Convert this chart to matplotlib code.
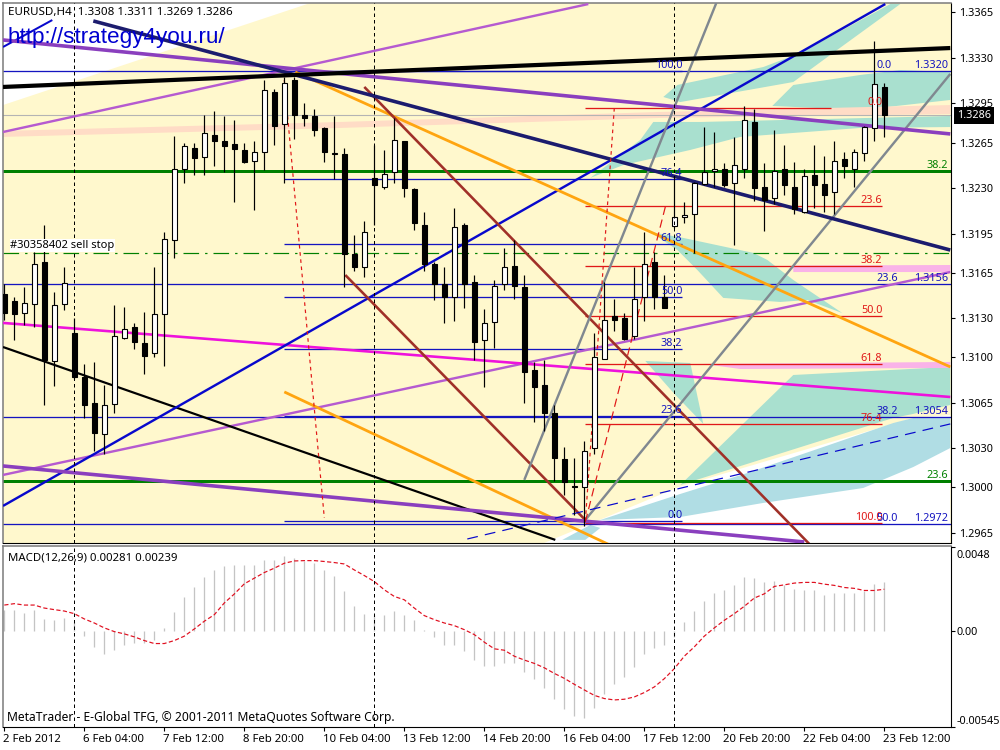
import matplotlib
matplotlib.use("Agg")
import matplotlib.pyplot as plt
from matplotlib.transforms import ScaledTranslation
import numpy as np

plt.rcParams['font.family'] = ['Noto Sans', 'DejaVu Sans']

# ---- candles, in price points (1/10000) ----
open_pts = [13149,13143,13134,13141,13173,13097,13141,13119,13085,13065,13041,13064,13115,13123,13111,13103,13133,13190,13245,13261,
            13254,13271,13266,13264,13259,13251,13258,13304,13279,13313,13286,13285,13276,13256,13256,13179,13169,13238,13231,13242,
            13266,13229,13202,13172,13156,13146,13202,13158,13113,13127,13156,13170,13154,13090,13079,13057,13022,13001,13000,13030,
            13099,13132,13130,13116,13146,13173,13146,13201,13208,13210,13233,13243,13245,13234,13245,13281,13231,13222,13245,13231,
            13212,13240,13233,13227,13252,13245,13257,13276,13308]
high_pts = [13156,13146,13154,13181,13202,13150,13169,13130,13095,13096,13079,13140,13139,13126,13135,13169,13196,13270,13265,13265,
            13286,13289,13285,13282,13265,13266,13313,13306,13315,13315,13295,13291,13277,13285,13261,13194,13205,13263,13259,13284,
            13266,13230,13212,13173,13169,13215,13203,13163,13137,13159,13184,13190,13163,13096,13098,13063,13031,13023,13036,13119,
            13158,13145,13134,13169,13196,13181,13163,13240,13219,13235,13277,13273,13249,13269,13293,13291,13249,13275,13263,13250,
            13245,13263,13255,13266,13258,13260,13278,13343,13311]
low_pts = [13129,13113,13125,13123,13063,13078,13136,13083,13053,13028,13026,13057,13114,13106,13087,13100,13093,13176,13234,13240,
           13240,13247,13242,13219,13249,13213,13244,13263,13234,13268,13278,13270,13250,13237,13154,13166,13162,13202,13229,13234,
           13223,13198,13166,13144,13126,13128,13138,13098,13077,13107,13152,13145,13065,13050,13043,13005,12994,12979,12970,13026,
           13099,13120,13113,13114,13128,13137,13138,13199,13203,13180,13232,13231,13231,13186,13238,13220,13197,13218,13225,13210,
           13211,13215,13212,13210,13238,13231,13251,13266,13269]
close_pts = [13134,13133,13142,13172,13098,13140,13157,13085,13063,13042,13063,13116,13122,13112,13101,13133,13191,13245,13262,13253,
             13272,13266,13262,13260,13250,13258,13305,13278,13311,13286,13284,13275,13258,13257,13179,13169,13196,13232,13241,13267,
             13230,13203,13172,13156,13146,13200,13156,13112,13126,13155,13169,13155,13089,13077,13057,13023,13004,13000,13028,13100,
             13129,13129,13114,13145,13172,13146,13138,13208,13209,13234,13242,13245,13232,13248,13282,13230,13221,13243,13232,13214,
             13239,13232,13225,13251,13247,13258,13277,13310,13286]

# ---- MACD ----
macd_hist = [.00123,.00119,.00104,.00119,.00072,.00066,.00074,.0005,-.00028,-.00089,-.00127,-.00104,-.00081,-.00066,-.00066,-.00047,.00019,.00111,.00195,.00251,
             .00308,.00349,.00372,.00378,.00378,.00378,.00406,.00406,.00431,.00416,.00402,.00387,.00349,.00317,.0023,.00145,.001,.0009,.00094,.00117,
             .00094,.00066,.00009,-.00032,-.00081,-.00076,-.0011,-.00166,-.00195,-.00198,-.00179,-.00183,-.0023,-.0027,-.00321,-.00387,-.00444,-.00485,-.00493,-.00436,
             -.00359,-.00302,-.00259,-.00202,-.00132,-.00098,-.00076,-.0003,.00051,.00117,.00174,.00217,.00236,.00264,.00308,.00302,.0028,.00287,.00264,.00242,
             .00236,.00232,.00208,.00217,.00217,.00217,.00227,.0027,.00281]
macd_signal = [.00149,.00157,.00149,.00149,.00132,.00123,.00115,.001,.0007,.00047,.00019,-.00002,-.00015,-.00032,-.00053,-.0007,-.0007,-.00053,-.00028,.00013,
               .00057,.00094,.00161,.00212,.0027,.00302,.00334,.00359,.00387,.004,.00402,.00402,.00397,.00391,.00383,.00349,.00317,.00283,.00236,.00198,
               .00179,.00132,.00089,.00066,.00047,.00032,.00009,-.00019,-.00062,-.001,-.00108,-.00142,-.00164,-.00183,-.00208,-.0024,-.00268,-.00302,-.00334,-.00365,
               -.00383,-.00391,-.00387,-.00374,-.00349,-.00317,-.0027,-.00213,-.00142,-.00089,-.00028,.00019,.00062,.001,.00142,.00189,.00213,.00255,.00264,.00274,
               .00278,.00278,.00268,.00261,.00249,.00244,.00232,.00232,.00239]

date_ticks = [0,8,16,24,32,40,48,56,64,72,80,88]
date_labels = ['2 Feb 2012','6 Feb 04:00','7 Feb 12:00','8 Feb 20:00','10 Feb 04:00','13 Feb 12:00',
               '14 Feb 20:00','16 Feb 04:00','17 Feb 12:00','20 Feb 20:00','22 Feb 04:00','23 Feb 12:00']
price_ticks = [1.3365,1.3330,1.3295,1.3265,1.3230,1.3195,1.3165,1.3130,1.3100,1.3065,1.3030,1.3000,1.2965]
period_seps = [7,37,67]

# ---- trend lines: ((bar, points), (bar, points)) ----
black_top = ((-0.13,13307.7),(94.6,13337.6))
purple_top = ((-0.13,13343.8),(94.6,13271.6))
navy_line = ((8.9,13358.4),(94.6,13182.4))
orchid_up1 = ((-0.13,13273.1),(58.4,13371.4))
orchid_up2 = ((-0.13,13009.6),(94.6,13165.5))
blue_up = ((-0.13,12985.8),(88.1,13371.4))
gray_a = ((52.0,13005.8),(71.2,13372.2))
gray_b = ((58.1,12975.0),(94.6,13317.7))
orange_a = ((29.1,13319.2),(94.6,13092.6))
orange_b = ((28.0,13073.4),(61.6,12952.0))
brown_a = ((36.0,13307.7),(80.6,12955.8))
brown_b = ((34.1,13163.2),(58.1,12975.0))
black_low = ((-0.13,13107.9),(55.1,12959.7))
magenta_line = ((-0.13,13126.4),(94.6,13069.5))
purple_low = ((-0.13,13016.5),(80.0,12958.1))
blue_stub = ((-0.13,13338.4),(4.8,13359.1))
blue_dash = ((46.3,12960.4),(94.6,13048.8))
red_dash1 = ((28.0,13313.0),(32.0,12976.6))
red_dash2 = ((61.0,13291.5),(58.1,12973.5))
red_dash3 = ((58.1,12973.5),(66.1,13215.5))

# ---- shaded regions (bar, points) ----
white_top = [(-0.13,13372.2),(30.6,13372.2),(-0.13,13293.8)]
white_low = [(54,12957.4),(67.6,13000.8),(90.9,13053.4),(94.6,13055.7),(94.6,12957.4)]
blue_band = [(59.6,12975),(67.6,12995),(74.3,13011.1),(88.9,13049.5),(90.9,13053.4),(94.6,13054.2),(94.6,13030.3),(90.9,13015.7),(85.9,12999.6),(75.9,12988.1),(67.6,12977.3)]
blue_small = [(55.8,12959.7),(58.6,12971.2),(59.6,12968.9),(58.1,12959.7)]
teal_big = [(78.9,13086.4),(94.6,13092.6),(94.6,13063.4),(90.9,13056.5),(88.9,13053.4),(67.6,13001.9)]
teal_a = [(65.9,13300),(67.3,13309.2),(75.9,13323),(79.6,13333.8),(88.6,13371.4),(89.6,13371.4),(82.6,13332.3),(78.9,13311.5),(67.6,13296.1)]
teal_b = [(76.8,13293.1),(78.9,13309.2),(85.6,13316.9),(89.6,13320.7),(94.6,13319.2),(94.6,13297.7),(85.6,13290)]
teal_d = [(58.6,13237.8),(63.6,13267),(64.9,13280.8),(69.6,13280.8),(94.6,13285.4),(94.6,13276.9),(85.6,13276.2),(73.6,13269.3),(68.6,13259.3),(61.9,13247.7)]
teal_mid = [(64.6,13196.3),(67.9,13191.7),(74.9,13180.2),(76.3,13174.8),(78.9,13159.4),(83.8,13134),(80.3,13144),(77.6,13142.5),(71.9,13145.6),(69.3,13167.1),(67.3,13182.5)]
teal_low = [(64.1,13097.2),(68.6,13095.6),(69.9,13048.8),(67.1,13071.1),(65.6,13084.1)]
peach_band = [(-0.13,13273.9),(33.6,13280.8),(65.6,13288.5),(94.6,13293.8),(94.6,13286.9),(65.6,13283.9),(33.6,13276.2),(-0.13,13269.3)]
pink_a = [(78.9,13170.5),(94.6,13170.9),(94.6,13165.5),(78.9,13165.5)]
pink_b = [(69.9,13094.9),(94.6,13096.4),(94.6,13091.8),(73.6,13091)]

# ---- horizontal levels ----
blue_levels = [1.3320,1.3156,1.3054,1.2972]
blue_level_names = ['0.0','23.6','38.2','50.0']
fib_blue_levels = [13320,13237,13187,13146,13106,13055,12974.5]
fib_blue_names = ['100.0','76.4','61.8','50.0','38.2','23.6','0.0']
fib_red_levels = [13291.5,13216.5,13170.4,13132,13094.9,13048.8,12973]
fib_red_names = ['0.0','23.6','38.2','50.0','61.8','76.4','100.0']
green_levels = [13243,13005]
green_names = ['38.2','23.6']
sell_stop = 13180
last_price = 1.3286

BG = '#FFF8CD'; TEAL = '#A9E0CF'; LBLUE = '#B0DDE4'; PEACH = '#FFDCC6'; PINK = '#F9B3E8'
FIBBLUE = '#1414C0'; FIBRED = '#E01818'; GREEN = '#008000'
px = 0.72
fs = 7.8
fs_head = 8.2

fig = plt.figure(figsize=(10,7.5), dpi=100, facecolor='white')
ax = fig.add_axes([0.003, 1-542.5/750, 0.9475, 539.5/750])
mx = fig.add_axes([0.003, 1-727/750, 0.9475, 181.5/750])
xlim = (-0.13, 94.62)
ax.set_xlim(*xlim); ax.set_ylim(1.29577, 1.33722)
mx.set_xlim(*xlim); mx.set_ylim(-0.0054, 0.00488)
ax.set_facecolor(BG)

def pts(seq):
    return [(b, p/1e4) for b, p in seq]

def poly(seq, color, z=1):
    ax.fill(*zip(*pts(seq)), color=color, lw=0, zorder=z)

poly(white_top,'white'); poly(white_low,'white')
poly(peach_band,PEACH,1.4)
poly(teal_a,TEAL,1.2); poly(teal_b,TEAL,1.2); poly(teal_d,TEAL,1.2); poly(teal_mid,TEAL,1.2); poly(teal_low,TEAL,1.2); poly(teal_big,TEAL,1.2)
poly(blue_band,LBLUE,1.3); poly(blue_small,LBLUE,1.3); poly(pink_a,PINK,1.3); poly(pink_b,PINK,1.3)

# levels
ax.axhline(last_price, color='#B4B4B4', lw=1.1*px, zorder=2)
for lv in blue_levels:
    ax.axhline(lv, color=FIBBLUE, lw=1.3*px, zorder=2)
ax.hlines([v/1e4 for v in fib_blue_levels], 28, 67.8, color=FIBBLUE, lw=1.3*px, zorder=2)
ends = [82.7]+[87.8]*6
for v, e in zip(fib_red_levels, ends):
    ax.hlines(v/1e4, 58.1, e, color=FIBRED, lw=1.3*px, zorder=2)
for v in green_levels:
    ax.axhline(v/1e4, color=GREEN, lw=3*px, zorder=2.5)
ax.axhline(sell_stop/1e4, color=GREEN, lw=1.2*px, ls=(0,(13,5,2,5)), zorder=2.5)

def line(seg, color, w, z=3, **kw):
    (a,b),(c,d) = seg
    ax.plot([a,c],[b/1e4,d/1e4], color=color, lw=w*px, zorder=z, solid_capstyle='butt', **kw)

line(orchid_up1,'#B55AD0',2.4); line(orchid_up2,'#B55AD0',2.4)
line(black_low,'black',2.2); line(magenta_line,'#EE12DC',2.6)
line(blue_up,'#0808CC',2.4); line(blue_stub,'#0808CC',2)
line(orange_a,'#FFA510',2.8); line(orange_b,'#FFA510',2.8)
line(brown_a,'#A03028',2.6); line(brown_b,'#A03028',2.6)
line(gray_a,'#808890',2.4); line(gray_b,'#808890',2.4)
line(purple_top,'#8A3FBE',3.6); line(purple_low,'#8A3FBE',3.6)
line(navy_line,'#1C1C6E',3.6); line(black_top,'black',4.2)
line(blue_dash,'#0808CC',1.2,ls=(0,(9,6)))
line(red_dash1,'#E01818',1.2,ls=(0,(3,3)))
line(red_dash2,'#E01818',1.2,ls=(0,(3,3)))
line(red_dash3,'#E01818',1.2,ls=(0,(7,4)))

# candles
bars = np.arange(len(open_pts))
O = np.array(open_pts)/1e4; H = np.array(high_pts)/1e4; L = np.array(low_pts)/1e4; C = np.array(close_pts)/1e4
ax.vlines(bars, L, H, color='black', lw=1.2*px, zorder=4)
bull = C >= O
ax.bar(bars, np.maximum(np.abs(C-O),1e-5), bottom=np.minimum(O,C), width=0.5,
       color=np.where(bull,'white','black'), edgecolor='black', linewidth=1.1*px, zorder=4.2)

for a in (ax, mx):
    for s in period_seps:
        a.axvline(s, color='black', lw=1*px, ls=(0,(3.5,3)), zorder=5)

# level labels
tk = dict(fontsize=fs, va='bottom', zorder=6, clip_on=True)
for v, n in zip(fib_blue_levels, fib_blue_names):
    ax.text(67.8, v/1e4, n, color=FIBBLUE, ha='right', **tk)
for v, n in zip(fib_red_levels, fib_red_names):
    ax.text(87.8, v/1e4, n, color=FIBRED, ha='right', **tk)
for v, n in zip(blue_levels, blue_level_names):
    ax.text(87.2, v, n, color=FIBBLUE, ha='left', **tk)
    ax.text(94.4, v, f'{v:.4f}', color=FIBBLUE, ha='right', **tk)
for v, n in zip(green_levels, green_names):
    ax.text(94.4, v/1e4, n, color=GREEN, ha='right', **tk)
ax.text(0.6, sell_stop/1e4+0.00015, '#30358402 sell stop', color='black', ha='left', va='bottom', fontsize=8.0,
        zorder=6, bbox=dict(fc='white', ec='none', pad=0.6))

# headers
ax.text(0.005, 0.9815, 'EURUSD,H4  1.3308 1.3311 1.3269 1.3286', transform=ax.transAxes, fontsize=8.35, va='center', ha='left', zorder=7)
ax.text(0.005, 0.9355, 'http://strategy4you.ru/', transform=ax.transAxes, fontsize=16.2, color='#0000D0',
        family='Liberation Sans', va='center', ha='left', zorder=7)
mx.text(0.005, 0.93, 'MACD(12,26,9) 0.00281 0.00239', transform=mx.transAxes, fontsize=fs_head, va='center', ha='left', zorder=7)
mx.text(0.004, 0.05, 'MetaTrader - E-Global TFG, \u00a9 2001-2011 MetaQuotes Software Corp.', transform=mx.transAxes,
        fontsize=8.7, va='center', ha='left', zorder=7)

# MACD
mx.vlines(bars, 0, macd_hist, color='#C4C4C4', lw=1.3*px, zorder=2)
mx.plot(bars, macd_signal, color='#E01020', lw=1.2*px, ls=(0,(3.5,2)), zorder=3)

# axes
for a in (ax, mx):
    a.yaxis.tick_right()
    for s in ('left','top'):
        a.spines[s].set_color('#808080'); a.spines[s].set_linewidth(1.6*px)
    for s in ('right','bottom'):
        a.spines[s].set_color('black'); a.spines[s].set_linewidth(1.1*px)
ax.set_xticks([])
ax.set_yticks(price_ticks)
ax.set_yticklabels([f'{t:.4f}' for t in price_ticks], fontsize=fs)
ax.tick_params(axis='y', length=3, width=0.8, pad=3.5)
mx.set_yticks([0.0048, 0, -0.00545])
mx.set_yticklabels(['0.0048','0.00','-0.00545'], fontsize=fs)
mx.tick_params(axis='y', length=3, width=0.8, pad=1.5)
ylabs = mx.get_yticklabels()
ylabs[0].set_va('top'); ylabs[2].set_va('bottom')
ylabs[0].set_transform(ylabs[0].get_transform() + ScaledTranslation(0, -2/72, fig.dpi_scale_trans))
mx.set_xticks(date_ticks)
mx.set_xticklabels(date_labels, fontsize=fs_head, ha='left')
mx.tick_params(axis='x', length=3, width=0.8, pad=2)
for lab in mx.get_xticklabels():
    lab.set_transform(lab.get_transform() + ScaledTranslation(-1/72, 0, fig.dpi_scale_trans))

ax.annotate('1.3286', xy=(1, last_price), xycoords=('axes fraction','data'), xytext=(5,0), textcoords='offset points',
            fontsize=fs, color='white', va='center', ha='left', annotation_clip=False, zorder=8,
            bbox=dict(fc='black', ec='black', pad=2.2, lw=0))

fig.savefig('out.png', dpi=100)
